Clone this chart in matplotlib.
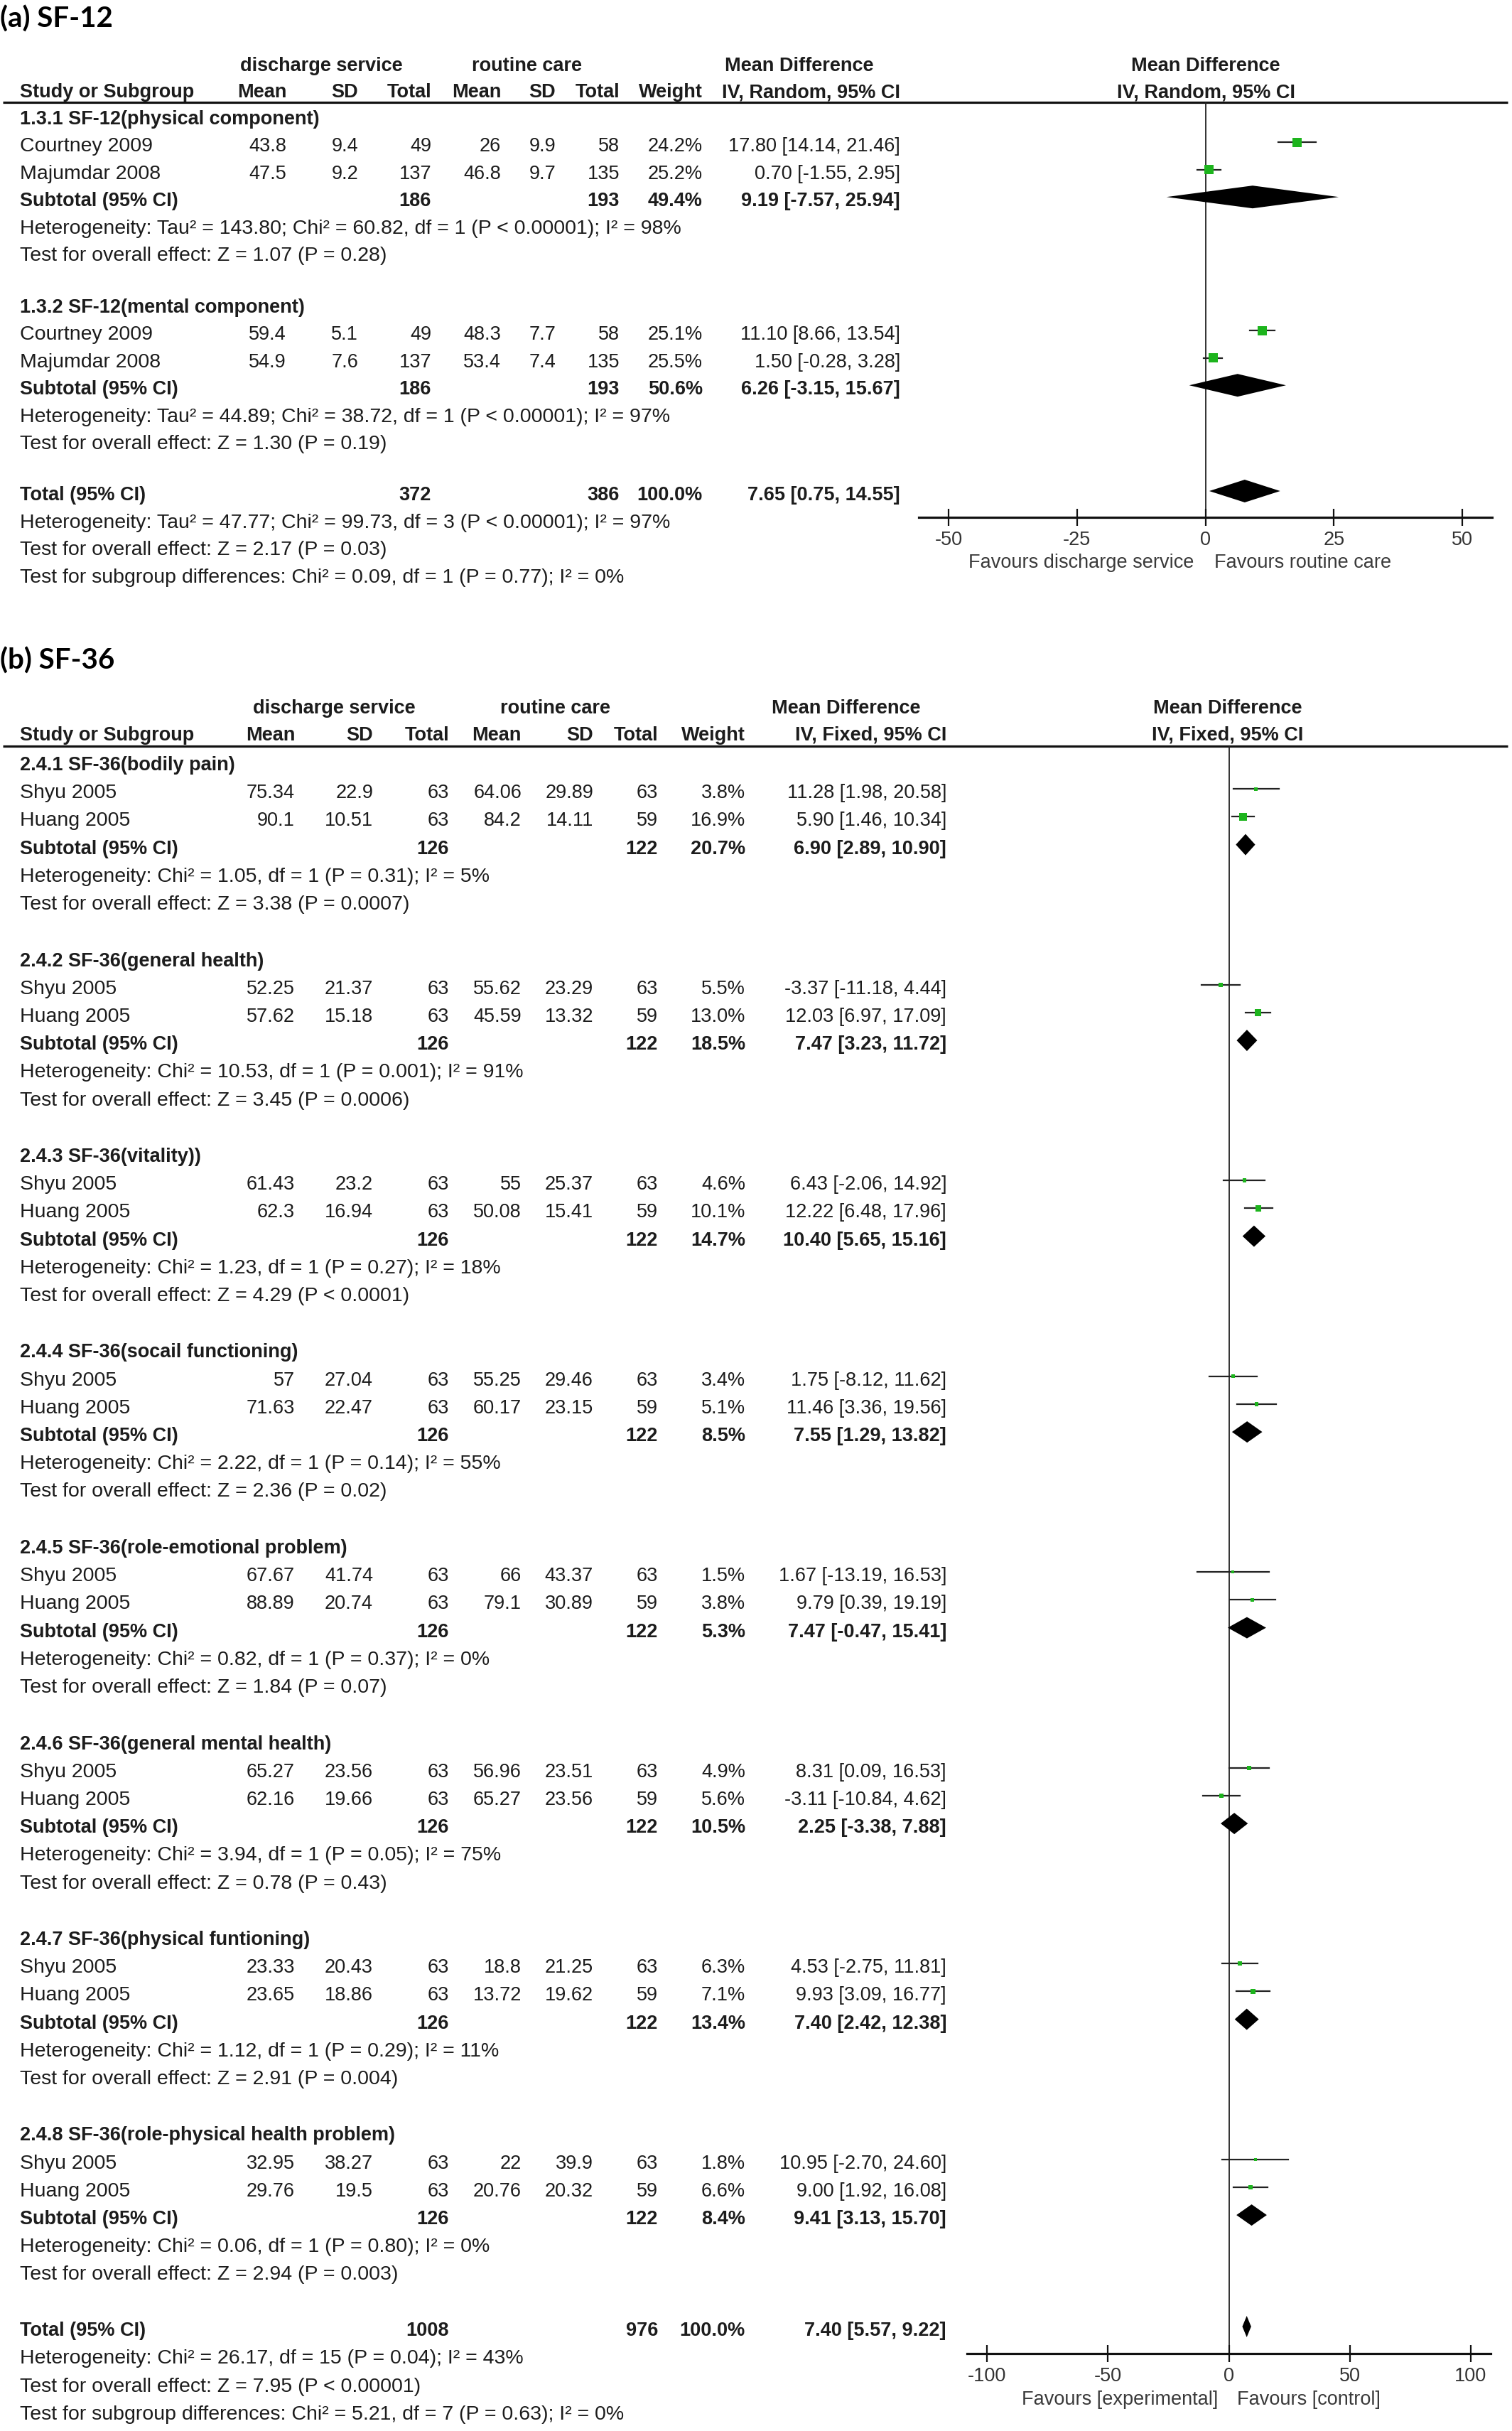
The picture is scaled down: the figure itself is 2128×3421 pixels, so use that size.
import matplotlib
matplotlib.use("Agg")
import matplotlib.pyplot as plt

plt.rcParams['font.family'] = ['Liberation Sans', 'DejaVu Sans']
plt.rcParams['axes.unicode_minus'] = False

# ---------------- data: (a) SF-12 ----------------
a_groups = ['1.3.1 SF-12(physical component)', '1.3.2 SF-12(mental component)']
a_studies = [['Courtney 2009', 'Majumdar 2008'], ['Courtney 2009', 'Majumdar 2008']]
a_exp_mean = [[43.8, 47.5], [59.4, 54.9]]
a_exp_sd = [[9.4, 9.2], [5.1, 7.6]]
a_exp_n = [[49, 137], [49, 137]]
a_ctl_mean = [[26, 46.8], [48.3, 53.4]]
a_ctl_sd = [[9.9, 9.7], [7.7, 7.4]]
a_ctl_n = [[58, 135], [58, 135]]
a_weight = [[24.2, 25.2], [25.1, 25.5]]
a_md = [[17.80, 0.70], [11.10, 1.50]]
a_lo = [[14.14, -1.55], [8.66, -0.28]]
a_hi = [[21.46, 2.95], [13.54, 3.28]]
a_sub_n = [(186, 193), (186, 193)]
a_sub_w = [49.4, 50.6]
a_sub_md = [9.19, 6.26]
a_sub_lo = [-7.57, -3.15]
a_sub_hi = [25.94, 15.67]
a_het = ['Heterogeneity: Tau² = 143.80; Chi² = 60.82, df = 1 (P < 0.00001); I² = 98%',
         'Heterogeneity: Tau² = 44.89; Chi² = 38.72, df = 1 (P < 0.00001); I² = 97%']
a_test = ['Test for overall effect: Z = 1.07 (P = 0.28)',
          'Test for overall effect: Z = 1.30 (P = 0.19)']
a_total_n = (372, 386)
a_total = (7.65, 0.75, 14.55)
a_total_notes = ['Heterogeneity: Tau² = 47.77; Chi² = 99.73, df = 3 (P < 0.00001); I² = 97%',
                 'Test for overall effect: Z = 2.17 (P = 0.03)',
                 'Test for subgroup differences: Chi² = 0.09, df = 1 (P = 0.77); I² = 0%']
a_ticks = [-50, -25, 0, 25, 50]
a_favours = ('Favours discharge service', 'Favours routine care')

# ---------------- data: (b) SF-36 ----------------
b_groups = ['2.4.1 SF-36(bodily pain)', '2.4.2 SF-36(general health)', '2.4.3 SF-36(vitality))',
            '2.4.4 SF-36(socail functioning)', '2.4.5 SF-36(role-emotional problem)',
            '2.4.6 SF-36(general mental health)', '2.4.7 SF-36(physical funtioning)',
            '2.4.8 SF-36(role-physical health problem)']
b_studies = [['Shyu 2005', 'Huang 2005']] * 8
b_exp_mean = [[75.34, 90.1], [52.25, 57.62], [61.43, 62.3], [57, 71.63],
              [67.67, 88.89], [65.27, 62.16], [23.33, 23.65], [32.95, 29.76]]
b_exp_sd = [[22.9, 10.51], [21.37, 15.18], [23.2, 16.94], [27.04, 22.47],
            [41.74, 20.74], [23.56, 19.66], [20.43, 18.86], [38.27, 19.5]]
b_exp_n = [[63, 63]] * 8
b_ctl_mean = [[64.06, 84.2], [55.62, 45.59], [55, 50.08], [55.25, 60.17],
              [66, 79.1], [56.96, 65.27], [18.8, 13.72], [22, 20.76]]
b_ctl_sd = [[29.89, 14.11], [23.29, 13.32], [25.37, 15.41], [29.46, 23.15],
            [43.37, 30.89], [23.51, 23.56], [21.25, 19.62], [39.9, 20.32]]
b_ctl_n = [[63, 59]] * 8
b_weight = [[3.8, 16.9], [5.5, 13.0], [4.6, 10.1], [3.4, 5.1],
            [1.5, 3.8], [4.9, 5.6], [6.3, 7.1], [1.8, 6.6]]
b_md = [[11.28, 5.90], [-3.37, 12.03], [6.43, 12.22], [1.75, 11.46],
        [1.67, 9.79], [8.31, -3.11], [4.53, 9.93], [10.95, 9.00]]
b_lo = [[1.98, 1.46], [-11.18, 6.97], [-2.06, 6.48], [-8.12, 3.36],
        [-13.19, 0.39], [0.09, -10.84], [-2.75, 3.09], [-2.70, 1.92]]
b_hi = [[20.58, 10.34], [4.44, 17.09], [14.92, 17.96], [11.62, 19.56],
        [16.53, 19.19], [16.53, 4.62], [11.81, 16.77], [24.60, 16.08]]
b_sub_n = [(126, 122)] * 8
b_sub_w = [20.7, 18.5, 14.7, 8.5, 5.3, 10.5, 13.4, 8.4]
b_sub_md = [6.90, 7.47, 10.40, 7.55, 7.47, 2.25, 7.40, 9.41]
b_sub_lo = [2.89, 3.23, 5.65, 1.29, -0.47, -3.38, 2.42, 3.13]
b_sub_hi = [10.90, 11.72, 15.16, 13.82, 15.41, 7.88, 12.38, 15.70]
b_het = ['Heterogeneity: Chi² = 1.05, df = 1 (P = 0.31); I² = 5%',
         'Heterogeneity: Chi² = 10.53, df = 1 (P = 0.001); I² = 91%',
         'Heterogeneity: Chi² = 1.23, df = 1 (P = 0.27); I² = 18%',
         'Heterogeneity: Chi² = 2.22, df = 1 (P = 0.14); I² = 55%',
         'Heterogeneity: Chi² = 0.82, df = 1 (P = 0.37); I² = 0%',
         'Heterogeneity: Chi² = 3.94, df = 1 (P = 0.05); I² = 75%',
         'Heterogeneity: Chi² = 1.12, df = 1 (P = 0.29); I² = 11%',
         'Heterogeneity: Chi² = 0.06, df = 1 (P = 0.80); I² = 0%']
b_test = ['Test for overall effect: Z = 3.38 (P = 0.0007)',
          'Test for overall effect: Z = 3.45 (P = 0.0006)',
          'Test for overall effect: Z = 4.29 (P < 0.0001)',
          'Test for overall effect: Z = 2.36 (P = 0.02)',
          'Test for overall effect: Z = 1.84 (P = 0.07)',
          'Test for overall effect: Z = 0.78 (P = 0.43)',
          'Test for overall effect: Z = 2.91 (P = 0.004)',
          'Test for overall effect: Z = 2.94 (P = 0.003)']
b_total_n = (1008, 976)
b_total = (7.40, 5.57, 9.22)
b_total_notes = ['Heterogeneity: Chi² = 26.17, df = 15 (P = 0.04); I² = 43%',
                 'Test for overall effect: Z = 7.95 (P < 0.00001)',
                 'Test for subgroup differences: Chi² = 5.21, df = 7 (P = 0.63); I² = 0%']
b_ticks = [-100, -50, 0, 50, 100]
b_favours = ('Favours [experimental]', 'Favours [control]')

# ---------------- figure ----------------
W, H = 2128, 3421
fig = plt.figure(figsize=(W / 100, H / 100), dpi=100)
bg = fig.add_axes([0, 0, 1, 1])
bg.set_xlim(0, W)
bg.set_ylim(H, 0)
bg.axis('off')

TXT = '#1c1c1c'
GREEN = '#1db41d'
FS = 19.5      # numbers and bold labels
FS_TXT = 20.5  # plain wording (study names, notes)


def put(x, y, s, ha='left', bold=False, color=TXT, size=FS):
    bg.text(x, y, s, ha=ha, va='center', fontsize=size, color=color,
            fontweight='bold' if bold else 'normal')


def fmt_ci(md, lo, hi):
    return '%.2f [%.2f, %.2f]' % (md, lo, hi)


def forest_axes(x0, x1, y0, y1, lim, ticks):
    ax = fig.add_axes([x0 / W, 1 - y1 / H, (x1 - x0) / W, (y1 - y0) / H])
    ax.set_xlim(-lim, lim)
    ax.set_ylim(y1, y0)
    ax.patch.set_alpha(0)
    for s in ['top', 'left', 'right']:
        ax.spines[s].set_visible(False)
    ax.spines['bottom'].set_linewidth(2.3)
    ax.spines['bottom'].set_color('#111111')
    ax.set_yticks([])
    ax.set_xticks(ticks)
    ax.set_xticklabels([str(t) for t in ticks])
    ax.tick_params(axis='x', direction='inout', length=17, width=1.6, pad=5,
                   labelsize=FS, labelcolor='#333333', color='#111111')
    ax.axvline(0, color='#222222', lw=1.3, zorder=1)
    return ax


def draw_panel(title, title_y, cols, hdr, ygroups, pitch, ytotal, tpitch, fax, msize, dh,
               groups, studies, em, esd, en, cm, csd, cn, wt, md, lo, hi,
               sub_n, sub_w, sub_md, sub_lo, sub_hi, het, test, total_n, total, notes,
               favours, fav_y, fav_x):
    c_m1, c_sd1, c_n1, c_m2, c_sd2, c_n2, c_w, c_ci = cols
    bg.text(0, title_y, title, ha='left', va='center', fontsize=29, fontweight='bold',
            color='black', family=['Lato', 'DejaVu Sans'])
    # header
    y1, y2, yline, ds_x, rc_x, md_x, md_ha, plot_x, iv_txt = hdr
    put(ds_x, y1, 'discharge service', ha='center', bold=True)
    put(rc_x, y1, 'routine care', ha='center', bold=True)
    put(md_x, y1, 'Mean Difference', ha=md_ha, bold=True)
    put(plot_x, y1, 'Mean Difference', ha='center', bold=True)
    put(28, y2, 'Study or Subgroup', bold=True)
    for x, s in zip(cols[:7], ['Mean', 'SD', 'Total', 'Mean', 'SD', 'Total', 'Weight']):
        put(x, y2, s, ha='right', bold=True)
    put(c_ci, y2, iv_txt, ha='right', bold=True)
    put(plot_x, y2, iv_txt, ha='center', bold=True)
    bg.plot([4, 2122], [yline, yline], color='#111111', lw=2.3, solid_capstyle='butt')

    off = 6  # marks sit slightly above the text centre
    for g, yg in enumerate(ygroups):
        put(28, yg, groups[g], bold=True)
        for i in range(2):
            yr = yg + pitch * (i + 1)
            put(28, yr, studies[g][i], size=FS_TXT)
            vals = ['%g' % em[g][i], '%g' % esd[g][i], '%d' % en[g][i],
                    '%g' % cm[g][i], '%g' % csd[g][i], '%d' % cn[g][i],
                    '%.1f%%' % wt[g][i], fmt_ci(md[g][i], lo[g][i], hi[g][i])]
            for x, s in zip(cols, vals):
                put(x, yr, s, ha='right')
            fax.plot([lo[g][i], hi[g][i]], [yr - off, yr - off], color='#222222', lw=1.6, zorder=2)
            side = max(msize * wt[g][i] ** 0.5, 4) / 1.389
            fax.scatter([md[g][i]], [yr - off], marker='s', s=side ** 2, color=GREEN,
                        edgecolors='none', zorder=3)
        ys = yg + pitch * 3
        put(28, ys, 'Subtotal (95% CI)', bold=True)
        put(c_n1, ys, '%d' % sub_n[g][0], ha='right', bold=True)
        put(c_n2, ys, '%d' % sub_n[g][1], ha='right', bold=True)
        put(c_w, ys, '%.1f%%' % sub_w[g], ha='right', bold=True)
        put(c_ci, ys, fmt_ci(sub_md[g], sub_lo[g], sub_hi[g]), ha='right', bold=True)
        fax.fill([sub_lo[g], sub_md[g], sub_hi[g], sub_md[g]],
                 [ys - off, ys - off - dh / 2, ys - off, ys - off + dh / 2],
                 color='black', lw=0, zorder=3)
        put(28, yg + pitch * 4, het[g], size=FS_TXT)
        put(28, yg + pitch * 5, test[g], size=FS_TXT)

    put(28, ytotal, 'Total (95% CI)', bold=True)
    put(c_n1, ytotal, '%d' % total_n[0], ha='right', bold=True)
    put(c_n2, ytotal, '%d' % total_n[1], ha='right', bold=True)
    put(c_w, ytotal, '100.0%', ha='right', bold=True)
    put(c_ci, ytotal, fmt_ci(*total), ha='right', bold=True)
    fax.fill([total[1], total[0], total[2], total[0]],
             [ytotal - off, ytotal - off - dh / 2, ytotal - off, ytotal - off + dh / 2],
             color='black', lw=0, zorder=3)
    for k, s in enumerate(notes):
        put(28, ytotal + tpitch * (k + 1), s, size=FS_TXT)
    put(fav_x[0], fav_y, favours[0], ha='right', color='#3a3a3a')
    put(fav_x[1], fav_y, favours[1], ha='left', color='#3a3a3a')


# (a) SF-12
ax_a = forest_axes(1293, 2100, 144, 728, 55.8, a_ticks)
draw_panel('(a) SF-12', 27,
           [403, 504, 607, 705, 782, 872, 989, 1267],
           (93, 130, 144, 452, 741, 1020, 'left', 1697, 'IV, Random, 95% CI'),
           [168, 433], 38.4, 697, 38.7, ax_a, 2.6, 32,
           a_groups, a_studies, a_exp_mean, a_exp_sd, a_exp_n, a_ctl_mean, a_ctl_sd, a_ctl_n,
           a_weight, a_md, a_lo, a_hi, a_sub_n, a_sub_w, a_sub_md, a_sub_lo, a_sub_hi,
           a_het, a_test, a_total_n, a_total, a_total_notes, a_favours, 792, (1680, 1709))

# (b) SF-36
ax_b = forest_axes(1361, 2098, 1050, 3312, 108.3, b_ticks)
draw_panel('(b) SF-36', 930,
           [415, 525, 632, 734, 835, 926, 1049, 1332],
           (997, 1035, 1050, 470, 781, 1191, 'center', 1728, 'IV, Fixed, 95% CI'),
           [1077 + 275.5 * k for k in range(8)], 39.2, 3280, 39.3, ax_b, 2.6, 30,
           b_groups, b_studies, b_exp_mean, b_exp_sd, b_exp_n, b_ctl_mean, b_ctl_sd, b_ctl_n,
           b_weight, b_md, b_lo, b_hi, b_sub_n, b_sub_w, b_sub_md, b_sub_lo, b_sub_hi,
           b_het, b_test, b_total_n, b_total, b_total_notes, b_favours, 3377, (1714, 1741))

fig.savefig('out.png', dpi=100, facecolor='white')
